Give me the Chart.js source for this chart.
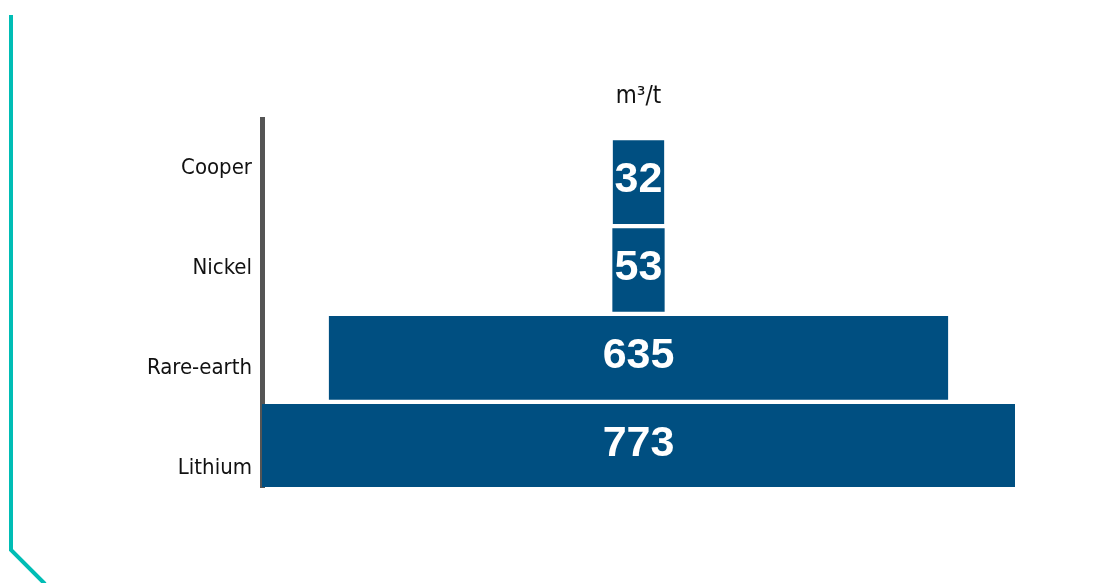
<!DOCTYPE html>
<html lang="en">
<head>
  <meta charset="UTF-8">
  <title>Water use per tonne</title>
  <script src="https://cdn.jsdelivr.net/npm/chart.js"></script>
  <style>
    html, body { margin: 0; padding: 0; background: #fff; }
    #wrap { width: 1096px; height: 583px; position: relative; }
  </style>
</head>
<body>
  <div id="wrap">
    <canvas id="myChart" width="1096" height="583"></canvas>
  </div>

  <script>
    // chart data
    const categories = ['Cooper', 'Nickel', 'Rare-earth', 'Lithium'];
    const values = [32, 53, 635, 773];
    const unitLabel = 'm³/t';

    // bars are centred on 0, so small ones still fit their label
    const minSpan = 52;
    const half = Math.max(...values) / 2;

    const barData = values.map((v, i) => {
      const s = Math.max(v, minSpan) / 2;
      return { x: [-s, s], y: i };
    });

    const labelFont = '"Liberation Sans Narrow", "DejaVu Sans Condensed", Roboto, sans-serif';

    // teal frame line on the left
    const frameLine = {
      id: 'frameLine',
      beforeDraw(chart) {
        const ctx = chart.ctx;
        ctx.save();
        ctx.strokeStyle = '#00bdb5';
        ctx.lineWidth = 4;
        ctx.beginPath();
        ctx.moveTo(11, 15);
        ctx.lineTo(11, 550);
        ctx.lineTo(45, 584);
        ctx.stroke();
        ctx.restore();
      }
    };

    // white value inside each bar
    const valueLabels = {
      id: 'valueLabels',
      afterDatasetsDraw(chart) {
        const ctx = chart.ctx;
        const meta = chart.getDatasetMeta(0);
        ctx.save();
        ctx.fillStyle = '#ffffff';
        ctx.font = 'bold 43px "Liberation Sans", Arial, sans-serif';
        ctx.textAlign = 'center';
        ctx.textBaseline = 'middle';
        meta.data.forEach((bar, i) => {
          const c = bar.getCenterPoint();
          ctx.fillText(String(values[i]), c.x, c.y - 2);
        });
        ctx.restore();
      }
    };

    const ctx = document.getElementById('myChart').getContext('2d');
    new Chart(ctx, {
      type: 'bar',
      data: {
        datasets: [{
          data: barData,
          backgroundColor: '#004f81',
          borderWidth: 0,
          barThickness: 83
        }]
      },
      options: {
        indexAxis: 'y',
        responsive: false,
        animation: false,
        layout: { padding: { top: 82, right: 81, bottom: 96, left: 0 } },
        plugins: {
          legend: { display: false },
          tooltip: { enabled: false }
        },
        scales: {
          x: {
            type: 'linear',
            position: 'top',
            min: -half,
            max: half,
            grid: { display: false, drawTicks: false },
            border: { display: false },
            ticks: { display: false },
            title: {
              display: true,
              text: unitLabel,
              color: '#111',
              font: { family: labelFont, size: 24 },
              padding: { top: 0, bottom: 9 }
            }
          },
          y: {
            type: 'linear',
            display: false,
            offset: false,
            reverse: true,
            min: -0.71,
            max: 3.47
          },
          yLabels: {
            type: 'linear',
            position: 'left',
            offset: false,
            reverse: true,
            min: -0.49,
            max: 3.19,
            z: 1,
            afterBuildTicks(scale) {
              scale.ticks = categories.map((c, i) => ({ value: i }));
            },
            afterFit(scale) {
              scale.width = 262;
            },
            grid: { display: false, drawTicks: false },
            border: { display: true, color: '#555555', width: 5 },
            ticks: {
              padding: 10,
              color: '#111',
              font: { family: labelFont, size: 22 },
              callback: (v) => categories[v] ?? ''
            }
          }
        }
      },
      plugins: [frameLine, valueLabels]
    });
  </script>
</body>
</html>
